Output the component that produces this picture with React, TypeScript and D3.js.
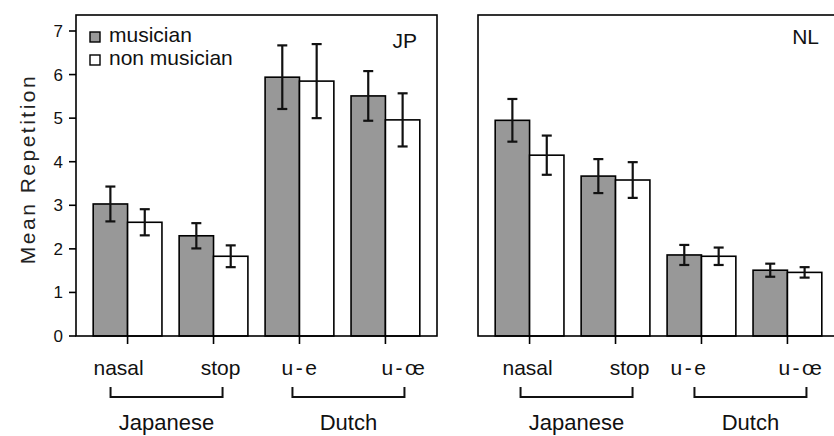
import * as d3 from 'd3'

// conditions along the x axis
const conditions = ['nasal', 'stop', 'u-e', 'u-œ']
const languages = ['Japanese', 'Dutch']

// JP listeners
const jpMusician = [3.03, 2.3, 5.94, 5.51]
const jpMusicianErr = [0.4, 0.29, 0.73, 0.57]
const jpNonMusician = [2.61, 1.83, 5.85, 4.96]
const jpNonMusicianErr = [0.3, 0.25, 0.85, 0.61]

// NL listeners
const nlMusician = [4.95, 3.67, 1.86, 1.51]
const nlMusicianErr = [0.49, 0.39, 0.23, 0.15]
const nlNonMusician = [4.15, 3.58, 1.83, 1.46]
const nlNonMusicianErr = [0.45, 0.41, 0.2, 0.12]

const yTicks = [0, 1, 2, 3, 4, 5, 6, 7]
const FONT = "'Liberation Sans', Arial, Helvetica, sans-serif"
const GREY = '#989898'

const top = 15
const bottom = 336
const y = d3.scaleLinear().domain([0, 7]).range([bottom, 31])

interface PanelProps {
  x0: number
  x1: number
  label: string
  labelY: number
  musician: number[]
  musicianErr: number[]
  nonMusician: number[]
  nonMusicianErr: number[]
  labelShift: number[]
  bracketShift: number[]
  showAxis?: boolean
  showLegend?: boolean
}

function Panel(p: PanelProps) {
  const x = d3.scaleBand<string>().domain(conditions).range([p.x0, p.x1]).paddingInner(0.2).paddingOuter(0.2)
  const sub = d3.scaleBand<string>().domain(['m', 'n']).range([0, x.bandwidth()])
  const series = [
    { key: 'm', vals: p.musician, errs: p.musicianErr, fill: GREY },
    { key: 'n', vals: p.nonMusician, errs: p.nonMusicianErr, fill: '#fff' },
  ]
  const center = (c: string) => (x(c) ?? 0) + x.bandwidth() / 2

  return (
    <g>
      {/* bars */}
      {series.map(s =>
        conditions.map((c, i) => {
          const bx = (x(c) ?? 0) + (sub(s.key) ?? 0)
          return (
            <rect key={s.key + c} x={bx} y={y(s.vals[i])} width={sub.bandwidth()} height={bottom - y(s.vals[i])}
              fill={s.fill} stroke="#000" strokeWidth={1.6} />
          )
        })
      )}
      {/* error bars */}
      {series.map(s =>
        conditions.map((c, i) => {
          const cx = (x(c) ?? 0) + (sub(s.key) ?? 0) + sub.bandwidth() / 2
          const hi = y(s.vals[i] + s.errs[i])
          const lo = y(s.vals[i] - s.errs[i])
          return (
            <g key={'e' + s.key + c} stroke="#111" strokeWidth={2.2}>
              <line x1={cx} x2={cx} y1={hi} y2={lo} />
              <line x1={cx - 5} x2={cx + 5} y1={hi} y2={hi} />
              <line x1={cx - 5} x2={cx + 5} y1={lo} y2={lo} />
            </g>
          )
        })
      )}
      {/* frame */}
      <rect x={p.x0} y={top} width={p.x1 - p.x0} height={bottom - top} fill="none" stroke="#000" strokeWidth={1.6} />
      {/* x ticks and labels */}
      {conditions.map((c, i) => (
        <g key={'t' + c}>
          <line x1={center(c)} x2={center(c)} y1={bottom} y2={bottom + 8} stroke="#000" strokeWidth={1.6} />
          <text x={center(c) + p.labelShift[i]} y={375} textAnchor="middle" fontSize={21} fontFamily={FONT}
            letterSpacing={c.startsWith('u') ? 2.5 : 0} fill="#111">{c}</text>
        </g>
      ))}
      {/* language brackets */}
      {languages.map((lang, k) => {
        const mid = (center(conditions[k * 2]) + center(conditions[k * 2 + 1])) / 2 + p.bracketShift[k]
        return (
          <g key={lang}>
            <path d={`M${mid - 56},387V397H${mid + 56}V387`} fill="none" stroke="#111" strokeWidth={2} />
            <text x={mid} y={430} textAnchor="middle" fontSize={22} fontFamily={FONT} fill="#111">{lang}</text>
          </g>
        )
      })}
      <text x={p.x1 - 20} y={p.labelY} textAnchor="end" fontSize={21} fontFamily={FONT} fill="#111">{p.label}</text>
      {p.showAxis && (
        <g>
          {yTicks.map(t => (
            <g key={'y' + t}>
              <line x1={p.x0 - 7} x2={p.x0} y1={y(t)} y2={y(t)} stroke="#000" strokeWidth={1.6} />
              <text x={p.x0 - 13} y={y(t) + 6} textAnchor="end" fontSize={17} fontFamily={FONT} fill="#111">{t}</text>
            </g>
          ))}
          <text transform={`translate(35,169) rotate(-90)`} textAnchor="middle" fontSize={21}
            letterSpacing={2.5} fontFamily={FONT} fill="#222">Mean Repetition</text>
        </g>
      )}
      {p.showLegend && (
        <g fontFamily={FONT} fontSize={21} fill="#111">
          <rect x={90} y={32} width={10} height={10} fill={GREY} stroke="#000" strokeWidth={1.4} />
          <text x={109} y={42}>musician</text>
          <rect x={90} y={55} width={10} height={10} fill="#fff" stroke="#000" strokeWidth={1.4} />
          <text x={109} y={65}>non musician</text>
        </g>
      )}
    </g>
  )
}

export default function App() {
  return (
    <svg width={834} height={436} style={{ position: 'absolute', left: 0, top: 0, background: '#fff' }}>
      <Panel x0={76} x1={437} label="JP" labelY={48} musician={jpMusician} musicianErr={jpMusicianErr}
        nonMusician={jpNonMusician} nonMusicianErr={jpNonMusicianErr}
        labelShift={[-9, 7, 1, 19]} bracketShift={[-4, 6]} showAxis showLegend />
      <Panel x0={478} x1={839} label="NL" labelY={44} musician={nlMusician} musicianErr={nlMusicianErr}
        nonMusician={nlNonMusician} nonMusicianErr={nlNonMusicianErr}
        labelShift={[-2, 14, -12, 14]} bracketShift={[4, 6]} />
    </svg>
  )
}
